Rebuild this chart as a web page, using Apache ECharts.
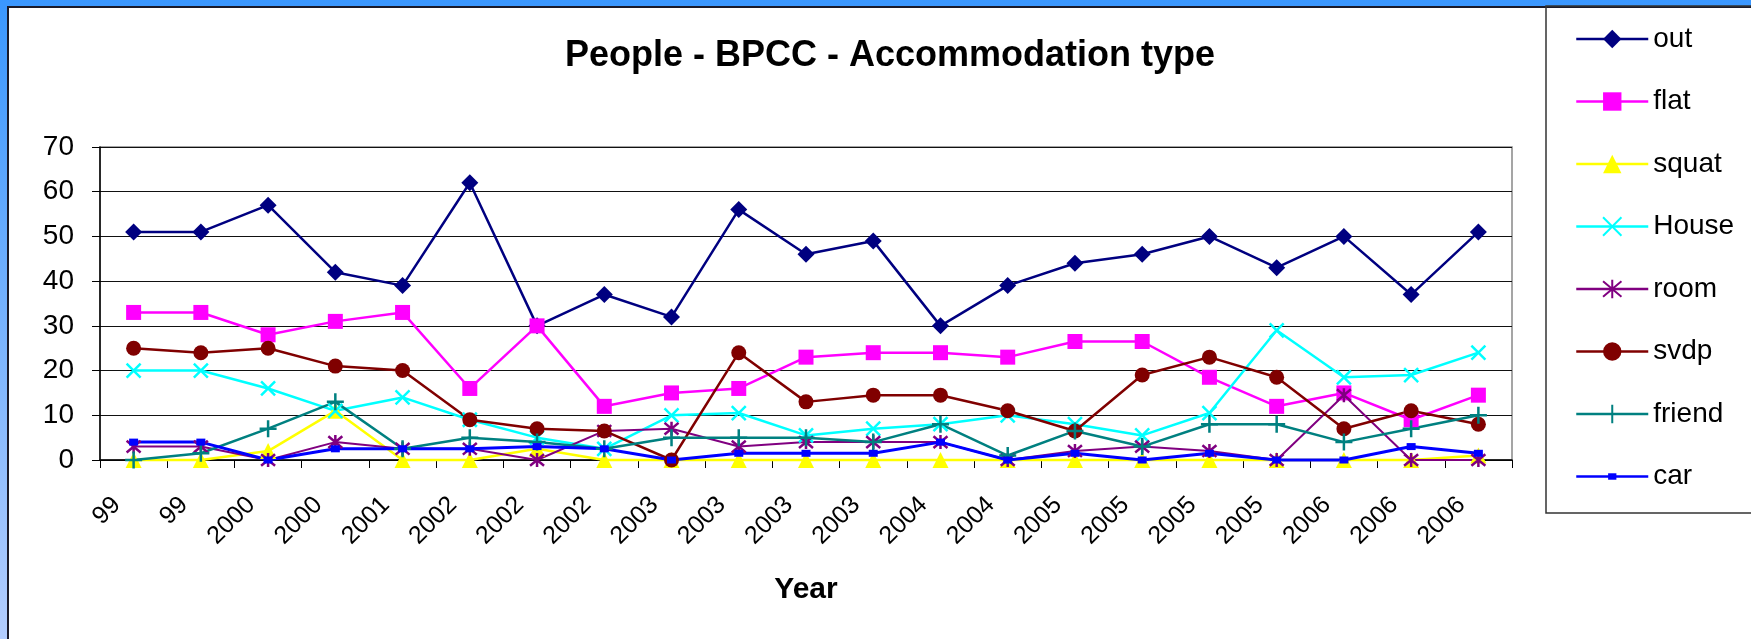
<!DOCTYPE html>
<html lang="en">
<head>
    <meta charset="UTF-8">
    <title>People - BPCC - Accommodation type</title>
    <style>
        html, body { margin: 0; padding: 0; width: 1751px; height: 639px; overflow: hidden; }
        body { background: linear-gradient(to bottom, #3a97ff, #b3cdff); position: relative; }
        #frame { position: absolute; left: 7px; top: 6px; width: 1760px; height: 650px;
                 background: #fff; border: 2px solid #1a1a2a; }
        #myChart { position: absolute; left: 0; top: 0; width: 1751px; height: 639px; }
    </style>
</head>
<body>
    <div id="frame"></div>
    <div id="myChart"></div>
</body>
<script src="https://cdn.jsdelivr.net/npm/echarts/dist/echarts.min.js"></script>
<script>
    // x axis labels (one per survey)
    let years = ['99', '99', '2000', '2000', '2001', '2002', '2002', '2002', '2003', '2003', '2003',
                 '2003', '2004', '2004', '2005', '2005', '2005', '2005', '2006', '2006', '2006'];

    let out    = [51, 51, 57, 42, 39, 62, 30, 37, 32, 56, 46, 49, 30, 39, 44, 46, 50, 43, 50, 37, 51];
    let flat   = [33, 33, 28, 31, 33, 16, 30, 12, 15, 16, 23, 24, 24, 23, 26.5, 26.5, 18.5, 12, 15, 9, 14.5];
    let squat  = [0, 0, 2, 11, 0, 0, 2.5, 0, 0, 0, 0, 0, 0, 0, 0, 0, 0, 0, 0, 0, 1];
    let house  = [20, 20, 16, 11, 14, 9, 5, 2.5, 10, 10.5, 5.5, 7, 8, 10, 8, 5.5, 10.5, 29, 18.5, 19, 24];
    let room   = [3, 3, 0, 4, 2.5, 2.5, 0, 6.5, 7, 3, 4, 4, 4, 0, 2, 3, 2, 0, 14.5, 0, 0];
    let svdp   = [25, 24, 25, 21, 20, 9, 7, 6.5, 0, 24, 13, 14.5, 14.5, 11, 6.5, 19, 23, 18.5, 7, 11, 8];
    let friend = [0, 1.5, 7, 13, 2.5, 5, 4, 2.5, 5, 5, 5, 4, 8, 1, 6.5, 3, 8, 8, 4, 7, 10];
    let car    = [4, 4, 0, 2.5, 2.5, 2.5, 3, 2.5, 0, 1.5, 1.5, 1.5, 4, 0, 1.5, 0, 1.5, 0, 0, 3, 1.5];

    let yTicks = [0, 10, 20, 30, 40, 50, 60, 70];

    // stroked marker shapes (Excel style x, asterisk, plus)
    let crossSym = 'path://M0,0L10,10M10,0L0,10';
    let starSym = 'path://M0,0L10,10M10,0L0,10M5,-1L5,11';
    let plusSym = 'path://M5,0L5,10M0,5L10,5';
    // small bar marker with empty margin so it stays small in the legend too
    let carSym = 'path://M0,0M20,20M5.5,6.5h9v7h-9z';

    function mk (name, data, color, symbol, size, stroked, width) {
      return {
        name: name,
        type: 'line',
        data: data,
        symbol: symbol,
        symbolSize: size,
        showSymbol: true,
        showAllSymbol: true,
        clip: false,
        lineStyle: { color: color, width: width || 2.5 },
        itemStyle: stroked
          ? { color: color, borderColor: color, borderWidth: 2.5 }
          : { color: color, borderWidth: 0 },
        emphasis: { disabled: true }
      };
    }

    let chart = echarts.init(document.getElementById('myChart'), null, { renderer: 'canvas' });
    let option = {
      backgroundColor: 'transparent',
      animation: false,
      textStyle: { fontFamily: 'Liberation Sans, Arial, sans-serif' },
      title: {
        text: 'People - BPCC - Accommodation type',
        left: 560,
        top: 33,
        textStyle: { fontSize: 36, fontWeight: 'bold', color: '#000' }
      },
      legend: {
        orient: 'vertical',
        left: 1570,
        top: 20,
        itemWidth: 72,
        itemHeight: 23,
        itemGap: 34.5,
        lineStyle: { width: 2.5 },
        textStyle: { fontSize: 28, color: '#000' },
        data: ['out', 'flat', 'squat', 'House', 'room', 'svdp', 'friend', 'car']
      },
      graphic: [{
        type: 'rect',
        shape: { x: 1546, y: 6, width: 260, height: 507 },
        style: { fill: 'none', stroke: '#333', lineWidth: 1.5 },
        silent: true,
        z: 0
      }],
      grid: {
        left: 100,
        top: 147,
        right: 239,
        bottom: 179,
        show: true,
        borderColor: '#888',
        borderWidth: 1.5
      },
      xAxis: {
        type: 'category',
        data: years,
        boundaryGap: true,
        name: 'Year',
        nameLocation: 'middle',
        nameGap: 115,
        nameTextStyle: { fontSize: 30, fontWeight: 'bold', color: '#000' },
        axisLine: { lineStyle: { color: '#000', width: 1.5 } },
        axisTick: { show: true, length: 8, alignWithLabel: false, lineStyle: { color: '#000' } },
        axisLabel: { rotate: 45, fontSize: 25, color: '#000', margin: 24, padding: [0, 24, 0, 0], interval: 0 },
        splitLine: { show: false }
      },
      yAxis: {
        type: 'value',
        min: yTicks[0],
        max: yTicks[yTicks.length - 1],
        interval: 10,
        axisLine: { show: true, lineStyle: { color: '#000', width: 1.5 } },
        axisTick: { show: true, length: 8, lineStyle: { color: '#000' } },
        axisLabel: { fontSize: 28, color: '#000', margin: 26 },
        splitLine: { show: true, lineStyle: { color: '#111', width: 1 } }
      },
      series: [
        mk('out', out, '#000080', 'diamond', 17, false),
        mk('flat', flat, '#ff00ff', 'rect', 15, false),
        mk('squat', squat, '#ffff00', 'triangle', 16, false),
        mk('House', house, '#00ffff', crossSym, 14, true),
        mk('room', room, '#800080', starSym, 14, true, 2),
        mk('svdp', svdp, '#800000', 'circle', 15, false),
        mk('friend', friend, '#008080', plusSym, 17, true),
        mk('car', car, '#0000ff', carSym, 20, false, 3)
      ]
    };
    chart.setOption(option);
</script>
</html>
